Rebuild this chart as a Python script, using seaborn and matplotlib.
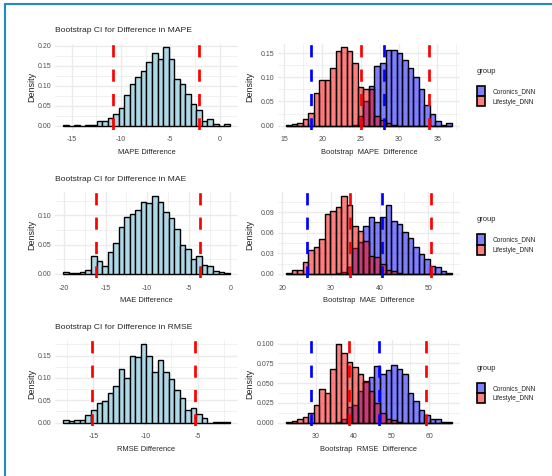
import numpy as np
import pandas as pd
import seaborn as sns
import matplotlib.pyplot as plt
from matplotlib.lines import Line2D
from matplotlib.ticker import FixedLocator, AutoMinorLocator, FormatStrFormatter

# ---- left column: bootstrap difference histograms (30 bins, density)
mape_diff_range = (-15.85, 1.02)
mape_diff_density = [0.002, 0.000, 0.001, 0.000, 0.001, 0.002, 0.012, 0.012, 0.020, 0.028,
                     0.045, 0.076, 0.105, 0.121, 0.137, 0.160, 0.183, 0.166, 0.196, 0.166,
                     0.118, 0.105, 0.078, 0.053, 0.038, 0.011, 0.016, 0.003, 0.000, 0.005]
mape_diff_ci = [-10.83, -2.13]

mae_diff_range = (-20.08, -0.08)
mae_diff_density = [0.003, 0.002, 0.002, 0.003, 0.007, 0.030, 0.022, 0.013, 0.037, 0.052,
                    0.080, 0.097, 0.103, 0.110, 0.123, 0.122, 0.134, 0.123, 0.106, 0.096,
                    0.077, 0.050, 0.043, 0.026, 0.030, 0.015, 0.013, 0.005, 0.003, 0.002]
mae_diff_ci = [-16.14, -3.69]

rmse_diff_range = (-17.88, -1.92)
rmse_diff_density = [0.005, 0.003, 0.005, 0.005, 0.018, 0.029, 0.043, 0.049, 0.066, 0.083,
                     0.119, 0.100, 0.149, 0.147, 0.175, 0.148, 0.113, 0.140, 0.113, 0.097,
                     0.072, 0.055, 0.028, 0.033, 0.020, 0.010, 0.000, 0.001, 0.001, 0.001]
rmse_diff_ci = [-15.1, -5.2]

# ---- right column: bootstrap metric per model (30 shared bins, density)
groups = ["Coronics_DNN", "Lifestyle_DNN"]

mape_boot_range = (15.3, 36.9)
mape_coronics = [0, 0, 0, 0, 0, 0, 0, 0, 0, 0,
                 0, 0, 0.002, 0.020, 0.050, 0.083, 0.123, 0.130, 0.157, 0.157,
                 0.150, 0.135, 0.120, 0.100, 0.075, 0.043, 0.025, 0.010, 0.001, 0.005]
mape_lifestyle = [0.001, 0.003, 0.005, 0.013, 0.027, 0.068, 0.095, 0.095, 0.120, 0.155,
                  0.162, 0.155, 0.130, 0.080, 0.075, 0.075, 0.020, 0.012, 0.005, 0.002,
                  0, 0, 0, 0, 0, 0, 0, 0, 0, 0]
mape_ci_blue = [18.55, 28.07]
mape_ci_red = [25.04, 33.9]

mae_boot_range = (20.8, 54.8)
mae_coronics = [0, 0, 0, 0, 0, 0, 0, 0, 0, 0.001,
                0.003, 0.010, 0.038, 0.047, 0.069, 0.083, 0.076, 0.083, 0.101, 0.077,
                0.072, 0.061, 0.052, 0.039, 0.029, 0.021, 0.012, 0.010, 0.004, 0.0015]
mae_lifestyle = [0.0015, 0.005, 0.005, 0.017, 0.035, 0.039, 0.050, 0.087, 0.091, 0.097,
                 0.114, 0.100, 0.069, 0.063, 0.048, 0.026, 0.025, 0.014, 0.006, 0.004,
                 0.001, 0, 0, 0, 0, 0, 0, 0, 0, 0]
mae_ci_blue = [25.1, 40.5]
mae_ci_red = [34.0, 50.5]

rmse_boot_range = (22.2, 65.9)
rmse_coronics = [0, 0, 0, 0, 0, 0, 0, 0, 0, 0.001,
                 0.004, 0.020, 0.022, 0.040, 0.052, 0.058, 0.072, 0.062, 0.067, 0.073,
                 0.068, 0.062, 0.038, 0.027, 0.016, 0.010, 0.005, 0.005, 0.001, 0.001]
rmse_lifestyle = [0.001, 0.002, 0.005, 0.007, 0.012, 0.022, 0.042, 0.038, 0.068, 0.099,
                  0.088, 0.077, 0.070, 0.061, 0.053, 0.040, 0.025, 0.012, 0.005, 0.003,
                  0.001, 0, 0, 0, 0, 0, 0, 0, 0, 0]
rmse_ci_blue = [28.7, 46.6]
rmse_ci_red = [38.8, 59.1]

# tick labels
left_xticks = [[-15, -10, -5, 0], [-20, -15, -10, -5, 0], [-15, -10, -5]]
left_yticks = [[0, 0.05, 0.10, 0.15, 0.20], [0, 0.05, 0.10], [0, 0.05, 0.10, 0.15]]
right_xticks = [[15, 20, 25, 30, 35], [20, 30, 40, 50], [30, 40, 50, 60]]
right_yticks = [[0, 0.05, 0.10, 0.15], [0, 0.03, 0.06, 0.09], [0, 0.025, 0.05, 0.075, 0.10]]
right_yfmt = ["%.2f", "%.2f", "%.3f"]

metrics = ["MAPE", "MAE", "RMSE"]
left_data = [(mape_diff_range, mape_diff_density, mape_diff_ci),
             (mae_diff_range, mae_diff_density, mae_diff_ci),
             (rmse_diff_range, rmse_diff_density, rmse_diff_ci)]
right_data = [(mape_boot_range, mape_coronics, mape_lifestyle, mape_ci_blue, mape_ci_red),
              (mae_boot_range, mae_coronics, mae_lifestyle, mae_ci_blue, mae_ci_red),
              (rmse_boot_range, rmse_coronics, rmse_lifestyle, rmse_ci_blue, rmse_ci_red)]

sns.set_style("white")
plt.rcParams["font.family"] = ["Liberation Sans", "DejaVu Sans"]
plt.rcParams["axes.unicode_minus"] = False

GRID = "#EBEBEB"
TICK = "#4D4D4D"


def style_axes(ax, xticks, yticks, yfmt, rng, top):
    lo, hi = rng
    pad = 0.05 * (hi - lo)
    ax.set_xlim(lo - pad, hi + pad)
    ax.set_ylim(-0.05 * top, 1.05 * top)
    ax.xaxis.set_major_locator(FixedLocator(xticks))
    ax.yaxis.set_major_locator(FixedLocator(yticks))
    ax.xaxis.set_minor_locator(AutoMinorLocator(2))
    ax.yaxis.set_minor_locator(AutoMinorLocator(2))
    ax.yaxis.set_major_formatter(FormatStrFormatter(yfmt))
    ax.grid(which="major", color=GRID, lw=1.0)
    ax.grid(which="minor", color=GRID, lw=0.5)
    ax.set_axisbelow(True)
    for s in ax.spines.values():
        s.set_visible(False)
    ax.tick_params(axis="both", which="both", length=0, labelsize=5.0, labelcolor=TICK)
    ax.tick_params(axis="x", pad=4.9)
    ax.tick_params(axis="y", pad=2.6)


def vline(ax, x, color):
    ax.axvline(x, color=color, lw=1.95, linestyle=(0, (4.5, 4.5)), zorder=5)


fig = plt.figure(figsize=(5.52, 4.76), dpi=100)
fig.patch.set_facecolor("white")

row_bottoms = [0.7279, 0.4166, 0.1040]
row_h = 0.1807

for i, m in enumerate(metrics):
    # left: difference histogram
    ax = fig.add_axes([0.0996, row_bottoms[i], 0.3315, row_h])
    rng, dens, ci = left_data[i]
    edges = np.linspace(rng[0], rng[1], len(dens) + 1)
    centers = (edges[:-1] + edges[1:]) / 2
    diff_df = pd.DataFrame({"value": centers, "density": dens})
    sns.histplot(data=diff_df, x="value", weights="density", bins=len(dens), binrange=rng,
                 color="lightblue", alpha=1, edgecolor="black", linewidth=1.0, ax=ax)
    for c in ci:
        vline(ax, c, "red")
    style_axes(ax, left_xticks[i], left_yticks[i], "%.2f", rng, max(dens))
    ax.set_title(f"Bootstrap CI for Difference in {m}", loc="left", fontsize=6.1, pad=8.0)
    ax.set_xlabel(f"{m} Difference", fontsize=5.4)
    ax.set_ylabel("Density", fontsize=6.5)
    ax.xaxis.set_label_coords(0.5, -0.222)
    ax.yaxis.set_label_coords(-0.101, 0.5)

    # right: per-model bootstrap histogram
    ax = fig.add_axes([0.5036, row_bottoms[i], 0.3297, row_h])
    rng, cor, life, ci_b, ci_r = right_data[i]
    edges = np.linspace(rng[0], rng[1], len(cor) + 1)
    centers = (edges[:-1] + edges[1:]) / 2
    df = pd.DataFrame({
        "value": np.concatenate([centers, centers]),
        "density": cor + life,
        "group": [groups[0]] * len(cor) + [groups[1]] * len(life),
    })
    sns.histplot(data=df, x="value", weights="density", hue="group",
                 hue_order=[groups[1], groups[0]], bins=len(cor), binrange=rng,
                 multiple="layer", palette={groups[0]: "blue", groups[1]: "red"},
                 alpha=0.5, edgecolor="black", linewidth=1.0, ax=ax)
    for c in ci_b:
        vline(ax, c, "blue")
    for c in ci_r:
        vline(ax, c, "red")
    style_axes(ax, right_xticks[i], right_yticks[i], right_yfmt[i], rng, max(cor + life))
    ax.set_xlabel(f"Bootstrap  {m}  Difference", fontsize=5.4)
    ax.set_ylabel("Density", fontsize=6.5)
    ax.xaxis.set_label_coords(0.5, -0.222)
    ax.yaxis.set_label_coords(-0.129, 0.5)

    old = ax.get_legend()
    handles = list(old.legend_handles)[::-1]
    labels = [t.get_text() for t in old.get_texts()][::-1]
    old.remove()
    for h in handles:
        h.set_edgecolor("black")
        h.set_linewidth(1.2)
    ax.legend(handles, labels, loc="center left", bbox_to_anchor=(1.093, 0.385),
              frameon=False, fontsize=4.7, borderaxespad=0, borderpad=0,
              handlelength=1.3, handleheight=2.0, handletextpad=1.1, labelspacing=0.0)
    ax.text(1.093, 0.68, "group", transform=ax.transAxes, fontsize=5.4,
            ha="left", va="center")

# blue frame around the figure
fig.add_artist(Line2D([5.5 / 552, 1], [1 - 4 / 476, 1 - 4 / 476], transform=fig.transFigure,
                      color="#1f8ac8", lw=1.5))
fig.add_artist(Line2D([5.5 / 552, 5.5 / 552], [0, 1 - 4 / 476], transform=fig.transFigure,
                      color="#1f8ac8", lw=1.5))

fig.savefig("out.png", dpi=100)
